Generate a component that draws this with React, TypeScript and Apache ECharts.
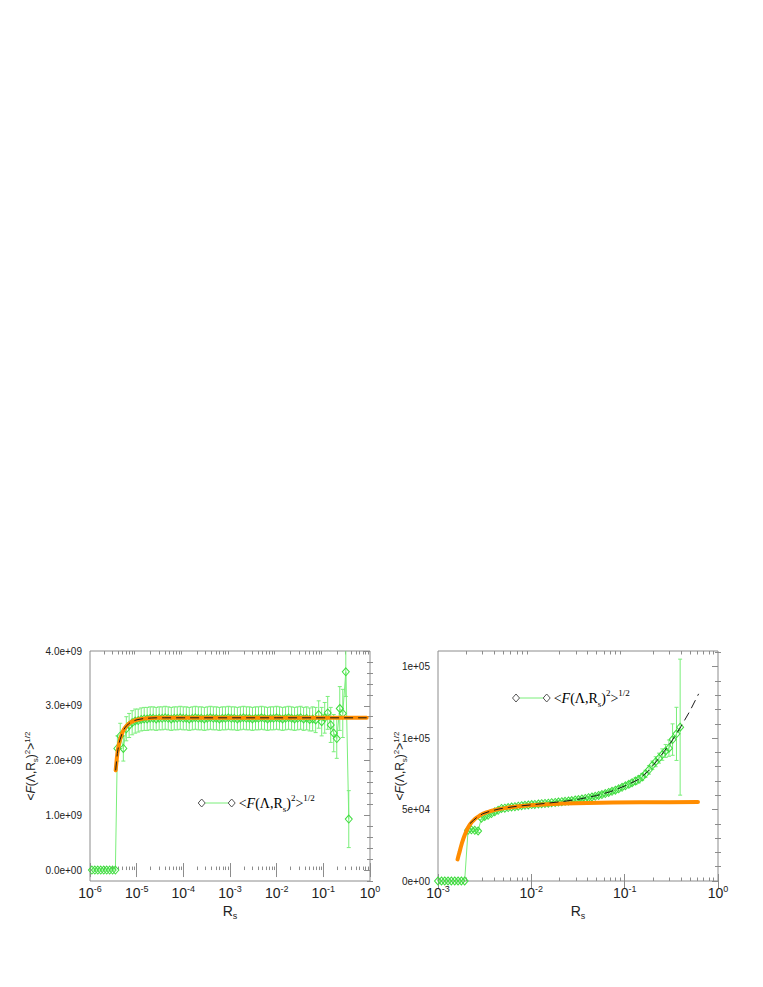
import React, { useEffect, useRef } from "react";
import * as echarts from "echarts";

// ---------- Left panel data ----------
const leftRs = [
  1.1e-6, 1.27e-6, 1.47e-6, 1.7e-6, 1.97e-6, 2.28e-6, 2.64e-6, 3.05e-6, 3.5e-6,
  3.86e-6, 4.45e-6, 5.18e-6, 6.0e-6, 6.9e-6, 8.0e-6, 9.3e-6,
  1.08e-5, 1.25e-5, 1.45e-5, 1.68e-5, 1.95e-5, 2.26e-5, 2.62e-5, 3.04e-5, 3.53e-5, 4.09e-5, 4.75e-5, 5.51e-5, 6.39e-5, 7.41e-5, 8.6e-5, 9.97e-5,
  1.16e-4, 1.34e-4, 1.56e-4, 1.81e-4, 2.1e-4, 2.43e-4, 2.82e-4, 3.27e-4, 3.8e-4, 4.4e-4, 5.11e-4, 5.93e-4, 6.88e-4, 7.98e-4, 9.25e-4,
  1.07e-3, 1.24e-3, 1.44e-3, 1.67e-3, 1.94e-3, 2.25e-3, 2.61e-3, 3.03e-3, 3.52e-3, 4.08e-3, 4.73e-3, 5.49e-3, 6.37e-3, 7.39e-3, 8.57e-3, 9.94e-3,
  1.15e-2, 1.34e-2, 1.55e-2, 1.8e-2, 2.09e-2, 2.42e-2, 2.81e-2, 3.26e-2, 3.78e-2, 4.39e-2, 5.09e-2,
  0.059, 0.0685, 0.0795, 0.0922, 0.107, 0.124, 0.144, 0.167, 0.194, 0.225, 0.261, 0.303, 0.351,
];
const leftF = [
  0, 0, 0, 0, 0, 0, 0, 0, 0,
  2.22e9, 2.45e9, 2.22e9, 2.58e9, 2.64e9, 2.69e9, 2.72e9,
  2.73e9, 2.75e9, 2.76e9, 2.76e9, 2.77e9, 2.77e9, 2.76e9, 2.77e9, 2.77e9, 2.78e9, 2.77e9, 2.76e9, 2.77e9, 2.77e9, 2.78e9, 2.77e9,
  2.77e9, 2.76e9, 2.77e9, 2.78e9, 2.77e9, 2.77e9, 2.76e9, 2.77e9, 2.78e9, 2.77e9, 2.77e9, 2.76e9, 2.77e9, 2.77e9, 2.78e9,
  2.77e9, 2.77e9, 2.76e9, 2.77e9, 2.78e9, 2.77e9, 2.77e9, 2.76e9, 2.77e9, 2.77e9, 2.78e9, 2.77e9, 2.76e9, 2.77e9, 2.77e9, 2.78e9,
  2.77e9, 2.76e9, 2.77e9, 2.78e9, 2.77e9, 2.76e9, 2.77e9, 2.78e9, 2.76e9, 2.77e9, 2.75e9,
  2.76e9, 2.74e9, 2.84e9, 2.71e9, 2.78e9, 2.87e9, 2.65e9, 2.5e9, 2.4e9, 2.95e9, 2.86e9, 3.62e9, 0.93e9,
];
const leftErr = [
  0, 0, 0, 0, 0, 0, 0, 0, 0,
  0.23e9, 0.23e9, 0.23e9, 0.22e9, 0.22e9, 0.22e9, 0.22e9,
  0.21e9, 0.21e9, 0.21e9, 0.21e9, 0.21e9, 0.21e9, 0.21e9, 0.21e9, 0.21e9, 0.21e9, 0.21e9, 0.21e9, 0.21e9, 0.21e9, 0.21e9, 0.21e9,
  0.21e9, 0.21e9, 0.21e9, 0.21e9, 0.21e9, 0.21e9, 0.21e9, 0.21e9, 0.21e9, 0.21e9, 0.21e9, 0.21e9, 0.21e9, 0.21e9, 0.21e9,
  0.21e9, 0.21e9, 0.21e9, 0.21e9, 0.21e9, 0.21e9, 0.21e9, 0.21e9, 0.21e9, 0.21e9, 0.21e9, 0.21e9, 0.21e9, 0.21e9, 0.21e9, 0.21e9,
  0.21e9, 0.21e9, 0.21e9, 0.21e9, 0.21e9, 0.21e9, 0.21e9, 0.21e9, 0.21e9, 0.21e9, 0.21e9,
  0.22e9, 0.23e9, 0.25e9, 0.26e9, 0.28e9, 0.3e9, 0.32e9, 0.34e9, 0.36e9, 0.4e9, 0.44e9, 0.45e9, 0.52e9,
];
const leftCurveRs = [
  3.55e-6, 3.62e-6, 3.7e-6, 3.78e-6, 3.86e-6, 3.97e-6, 4.1e-6, 4.25e-6, 4.4e-6, 4.6e-6, 4.8e-6, 5.05e-6, 5.34e-6,
  5.75e-6, 6.2e-6, 6.7e-6, 7.2e-6, 8e-6, 9e-6, 1.02e-5, 1.18e-5, 1.4e-5, 1.7e-5, 2.1e-5, 2.7e-5, 4e-5, 1e-4, 1e-3, 1e-2, 0.1, 0.85,
];
const leftCurveF = [
  1.82e9, 1.9e9, 1.98e9, 2.06e9, 2.13e9, 2.2e9, 2.27e9, 2.33e9, 2.38e9, 2.43e9, 2.48e9, 2.53e9, 2.57e9,
  2.61e9, 2.64e9, 2.67e9, 2.69e9, 2.71e9, 2.73e9, 2.745e9, 2.755e9, 2.765e9, 2.772e9, 2.777e9, 2.78e9, 2.78e9, 2.78e9, 2.78e9, 2.78e9, 2.78e9, 2.78e9,
];

// ---------- Right panel data ----------
const rightRs = [
  1.0e-3, 1.09e-3, 1.18e-3, 1.28e-3, 1.39e-3, 1.51e-3, 1.64e-3, 1.78e-3, 1.93e-3,
  2.1e-3, 2.28e-3, 2.48e-3, 2.69e-3, 2.92e-3, 3.17e-3, 3.44e-3, 3.74e-3, 4.06e-3, 4.41e-3, 4.79e-3, 5.2e-3, 5.65e-3, 6.14e-3, 6.67e-3, 7.24e-3, 7.87e-3, 8.55e-3, 9.28e-3,
  1.01e-2, 1.09e-2, 1.19e-2, 1.29e-2, 1.4e-2, 1.52e-2, 1.65e-2, 1.8e-2, 1.95e-2, 2.12e-2, 2.3e-2, 2.5e-2, 2.71e-2, 2.95e-2,
  3.2e-2, 3.48e-2, 3.78e-2, 4.1e-2, 4.46e-2, 4.84e-2, 5.26e-2, 5.71e-2, 6.2e-2, 6.74e-2, 7.32e-2, 7.95e-2, 8.63e-2, 9.38e-2,
  0.102, 0.111, 0.12, 0.131, 0.142, 0.154, 0.167, 0.182, 0.198, 0.215, 0.233, 0.253, 0.275, 0.298, 0.326, 0.359, 0.393,
];
const rightF = [
  0, 0, 0, 0, 0, 0, 0, 0, 0,
  3.55e4, 3.58e4, 3.55e4, 3.5e4, 4.4e4, 4.52e4, 4.6e4, 4.72e4, 4.85e4, 4.95e4, 5.08e4, 5.1e4, 5.14e4, 5.18e4, 5.2e4, 5.24e4, 5.27e4, 5.3e4, 5.32e4,
  5.35e4, 5.36e4, 5.39e4, 5.41e4, 5.43e4, 5.45e4, 5.48e4, 5.5e4, 5.53e4, 5.55e4, 5.58e4, 5.6e4, 5.63e4, 5.67e4,
  5.7e4, 5.74e4, 5.78e4, 5.83e4, 5.88e4, 5.93e4, 5.99e4, 6.05e4, 6.12e4, 6.2e4, 6.28e4, 6.36e4, 6.45e4, 6.56e4,
  6.66e4, 6.77e4, 6.88e4, 7.0e4, 7.12e4, 7.28e4, 7.5e4, 7.78e4, 8.1e4, 8.35e4, 8.6e4, 8.85e4, 9.1e4, 9.3e4, 9.9e4, 1.03e5, 1.077e5,
];
const rightErr = [
  0, 0, 0, 0, 0, 0, 0, 0, 0,
  1e3, 1e3, 1e3, 1e3, 1e3, 1e3, 1e3, 1e3, 1e3, 1e3, 1e3, 1e3, 1e3, 1e3, 1e3, 1e3, 1e3, 1e3, 1e3,
  1e3, 1e3, 1e3, 1e3, 1e3, 1e3, 1e3, 1e3, 1e3, 1e3, 1e3, 1e3, 1e3, 1e3,
  1e3, 1e3, 1e3, 1e3, 1e3, 1.2e3, 1.5e3, 1.5e3, 1.5e3, 1.5e3, 1.5e3, 1.5e3, 1.5e3, 1.5e3,
  1.5e3, 2e3, 2e3, 2.5e3, 2.5e3, 2.5e3, 2.5e3, 3e3, 3e3, 3.5e3, 3.5e3, 4e3, 4.5e3, 5.7e3, 1.1e4, 1.86e4, 4.76e4,
];
const rightModelRs = [
  1.62e-3, 1.66e-3, 1.7e-3, 1.75e-3, 1.8e-3, 1.86e-3, 1.93e-3, 2.0e-3, 2.07e-3, 2.18e-3, 2.3e-3, 2.45e-3, 2.6e-3, 2.8e-3,
  3.0e-3, 3.3e-3, 3.6e-3, 4.0e-3, 4.5e-3, 5.4e-3, 7e-3, 9.7e-3, 1.5e-2, 2.2e-2, 4e-2, 7.5e-2, 0.15, 0.3, 0.61,
];
const rightModelF = [
  1.51e4, 1.78e4, 2.02e4, 2.34e4, 2.63e4, 2.92e4, 3.2e4, 3.45e4, 3.67e4, 3.92e4, 4.12e4, 4.3e4, 4.44e4, 4.58e4,
  4.7e4, 4.8e4, 4.88e4, 4.96e4, 5.03e4, 5.12e4, 5.22e4, 5.3e4, 5.37e4, 5.42e4, 5.46e4, 5.49e4, 5.51e4, 5.52e4, 5.53e4,
];
const rightFitRs = [
  2.2e-3, 2.4e-3, 2.6e-3, 3.0e-3, 3.6e-3, 4.5e-3, 5.4e-3, 7e-3, 1e-2, 1.5e-2, 2.2e-2, 3.2e-2, 5e-2, 7e-2,
  0.1, 0.14, 0.18, 0.22, 0.26, 0.32, 0.4, 0.5, 0.62,
];
const rightFitF = [
  4.02e4, 4.25e4, 4.44e4, 4.7e4, 4.88e4, 5.04e4, 5.13e4, 5.23e4, 5.33e4, 5.45e4, 5.57e4, 5.72e4, 5.98e4, 6.25e4,
  6.65e4, 7.1e4, 7.7e4, 8.4e4, 9.0e4, 9.8e4, 1.08e5, 1.19e5, 1.31e5,
];

// ---------- Tick labels ----------
const leftYTicks = [0, 1e9, 2e9, 3e9, 4e9];
const leftYLabels = ["0.0e+00", "1.0e+09", "2.0e+09", "3.0e+09", "4.0e+09"];
const rightYTicks = [0, 5e4, 1e5, 1.5e5];
const rightYLabels = ["0e+00", "5e+04", "1e+05", "1e+05"];
const minorMantissas = [2, 3, 4, 5, 6, 7, 8, 9];

const GREEN_LINE = "#7aee7a";
const GREEN_MARK = "#3fdc3f";
const ORANGE = "#ff8c00";
const FRAME = "#8c8c8c";
const LABEL = "#222";
const SANS = "'Liberation Sans', Arial, Helvetica, sans-serif";
const SERIF = "'Liberation Serif', 'Times New Roman', serif";

function logMinor(minExp: number, maxExp: number) {
  const out: number[] = [];
  for (let d = minExp; d < maxExp; d++) for (const m of minorMantissas) out.push(d + Math.log10(m));
  return out;
}
function linMinor(kMin: number, kMax: number, step: number, every: number) {
  const out: number[] = [];
  for (let k = kMin; k <= kMax; k++) if (k % every !== 0) out.push(k * step);
  return out;
}

const yTitleRich = {
  t: { fontFamily: SANS, fontSize: 12, lineHeight: 16, color: LABEL },
  i: { fontFamily: SANS, fontSize: 12, lineHeight: 16, fontStyle: "italic", color: LABEL },
  sub: { fontFamily: SANS, fontSize: 8, verticalAlign: "bottom", color: LABEL },
  sup: { fontFamily: SANS, fontSize: 8, verticalAlign: "top", color: LABEL },
};
const legendRich = {
  t: { fontFamily: SERIF, fontSize: 14, lineHeight: 20, color: "#000" },
  i: { fontFamily: SERIF, fontSize: 14, lineHeight: 20, fontStyle: "italic", color: "#000" },
  sub: { fontFamily: SERIF, fontSize: 9, verticalAlign: "bottom", color: "#000" },
  sup: { fontFamily: SERIF, fontSize: 9, verticalAlign: "top", color: "#000" },
};
const FTEXT = "{t|<}{i|F}{t|(Λ,R}{sub|s}{t|)}{sup|2}{t|>}{sup|1/2}";
const xLabelRich = {
  b: { fontFamily: SANS, fontSize: 14, lineHeight: 18, color: LABEL },
  s: { fontFamily: SANS, fontSize: 9, verticalAlign: "top", color: LABEL },
};
const xNameRich = {
  b: { fontFamily: SANS, fontSize: 14, lineHeight: 18, color: LABEL },
  sub: { fontFamily: SANS, fontSize: 9, verticalAlign: "bottom", color: LABEL },
};

type Panel = {
  grid: { left: number; top: number; width: number; height: number };
  minExp: number;
  yMin: number;
  yMax: number;
  yTicks: number[];
  yLabels: string[];
  yMinor: number[];
  yNameGap: number;
};

function buildAxes(p: Panel, g: number) {
  const tick = (len: number, inside: boolean, customValues?: number[]) => ({
    show: true,
    inside,
    length: len,
    lineStyle: { color: FRAME, width: 1 },
    ...(customValues ? { customValues } : {}),
  });
  const base = {
    gridIndex: g,
    axisLine: { show: false },
    splitLine: { show: false },
  };
  const xMajorVals: number[] = [];
  for (let d = p.minExp; d <= 0; d++) xMajorVals.push(d);
  const xMinorVals = logMinor(p.minExp, 0);
  const xAxes = [
    { type: "log", gridIndex: g, logBase: 10, min: Math.pow(10, p.minExp), max: 1, show: false },
    {
      ...base,
      type: "value",
      position: "bottom",
      min: p.minExp,
      max: 0,
      interval: 1,
      axisTick: tick(7, true),
      axisLabel: {
        margin: 3,
        formatter: (v: number) => `{b|10}{s|${Math.round(v)}}`,
        rich: xLabelRich,
      },
      name: "{b|R}{sub|s}",
      nameLocation: "middle",
      nameGap: 21,
      nameMoveOverlap: false,
      nameTextStyle: { rich: xNameRich },
    },
    { ...base, type: "value", position: "bottom", min: p.minExp, max: 0, axisTick: tick(3.5, true, xMinorVals), axisLabel: { show: false } },
    { ...base, type: "value", position: "top", min: p.minExp, max: 0, axisTick: tick(7, true, xMajorVals), axisLabel: { show: false } },
    { ...base, type: "value", position: "top", min: p.minExp, max: 0, axisTick: tick(3.5, true, xMinorVals), axisLabel: { show: false } },
  ];
  const yAxes = [
    {
      ...base,
      type: "value",
      position: "left",
      min: p.yMin,
      max: p.yMax,
      axisTick: tick(5, false, p.yTicks),
      axisLabel: {
        customValues: p.yTicks,
        margin: 8,
        fontFamily: SANS,
        fontSize: 10,
        color: LABEL,
        formatter: (v: number) => {
          const i = p.yTicks.findIndex((t) => Math.abs(t - v) < 1e-6 * (Math.abs(t) + 1));
          return i >= 0 ? p.yLabels[i] : String(v);
        },
      },
      name: FTEXT,
      nameLocation: "middle",
      nameRotate: 90,
      nameGap: p.yNameGap,
      nameMoveOverlap: false,
      nameTextStyle: { rich: yTitleRich },
    },
    { ...base, type: "value", position: "left", min: p.yMin, max: p.yMax, axisTick: tick(3, true, p.yMinor), axisLabel: { show: false } },
    { ...base, type: "value", position: "right", min: p.yMin, max: p.yMax, axisTick: tick(6, true, p.yTicks), axisLabel: { show: false } },
    { ...base, type: "value", position: "right", min: p.yMin, max: p.yMax, axisTick: tick(3, true, p.yMinor), axisLabel: { show: false } },
  ];
  return { xAxes, yAxes };
}

function buildSeries(
  xIdx: number,
  yIdx: number,
  rs: number[],
  f: number[],
  err: number[],
  model: [number[], number[]],
  fit: [number[], number[]]
) {
  const errData: number[][] = [];
  rs.forEach((x, i) => {
    const e = err[i] || 0;
    if (e > 0) errData.push([x, f[i] - e, f[i] + e]);
  });
  const pts = rs.map((x, i) => [x, f[i]]);
  const modelPts = model[0].map((x, i) => [x, model[1][i]]);
  const fitPts = fit[0].map((x, i) => [x, fit[1][i]]);
  return [
    {
      type: "custom",
      xAxisIndex: xIdx,
      yAxisIndex: yIdx,
      clip: true,
      silent: true,
      data: errData,
      renderItem: (_params: any, api: any) => {
        const x = api.value(0);
        const lo = api.coord([x, api.value(1)]);
        const hi = api.coord([x, api.value(2)]);
        const c = 2;
        const st = { stroke: GREEN_LINE, lineWidth: 1 };
        return {
          type: "group",
          children: [
            { type: "line", shape: { x1: hi[0], y1: hi[1], x2: lo[0], y2: lo[1] }, style: st },
            { type: "line", shape: { x1: hi[0] - c, y1: hi[1], x2: hi[0] + c, y2: hi[1] }, style: st },
            { type: "line", shape: { x1: lo[0] - c, y1: lo[1], x2: lo[0] + c, y2: lo[1] }, style: st },
          ],
        };
      },
      z: 1,
    },
    {
      type: "line",
      xAxisIndex: xIdx,
      yAxisIndex: yIdx,
      data: pts,
      symbol: "diamond",
      symbolSize: [7, 8],
      showSymbol: true,
      lineStyle: { color: GREEN_LINE, width: 1 },
      itemStyle: { color: "rgba(0,0,0,0)", borderColor: GREEN_MARK, borderWidth: 1 },
      z: 2,
    },
    {
      type: "line",
      xAxisIndex: xIdx,
      yAxisIndex: yIdx,
      data: modelPts,
      showSymbol: false,
      symbol: "none",
      lineStyle: { color: ORANGE, width: 4, cap: "round" },
      z: 3,
    },
    {
      type: "line",
      xAxisIndex: xIdx,
      yAxisIndex: yIdx,
      data: fitPts,
      showSymbol: false,
      symbol: "none",
      lineStyle: { color: "#1a1a1a", width: 1, type: [9, 5] },
      z: 4,
    },
  ];
}

function legendGraphic(x1: number, x2: number, y: number) {
  const diamond = (cx: number) => ({
    type: "polygon",
    shape: { points: [[cx, y - 4], [cx + 3.5, y], [cx, y + 4], [cx - 3.5, y]] },
    style: { fill: "#fff", stroke: "#555", lineWidth: 1 },
    z: 10,
  });
  return [
    { type: "line", shape: { x1: x1 + 3.5, y1: y, x2: x2 - 3.5, y2: y }, style: { stroke: GREEN_LINE, lineWidth: 1 }, z: 10 },
    diamond(x1),
    diamond(x2),
    {
      type: "text",
      x: x2 + 7,
      y: y,
      style: { text: FTEXT, rich: legendRich, verticalAlign: "middle", align: "left" },
      z: 10,
    },
  ];
}

export default function App() {
  const ref = useRef<HTMLDivElement>(null);
  useEffect(() => {
    if (!ref.current) return;
    const chart = echarts.init(ref.current, null, { renderer: "svg" });
    const leftPanel: Panel = {
      grid: { left: 90, top: 651, width: 280, height: 230 },
      minExp: -6,
      yMin: -0.2e9,
      yMax: 4e9,
      yTicks: leftYTicks,
      yLabels: leftYLabels,
      yMinor: linMinor(-1, 20, 0.2e9, 5),
      yNameGap: 51,
    };
    const rightPanel: Panel = {
      grid: { left: 438, top: 651, width: 280, height: 230 },
      minExp: -3,
      yMin: 0,
      yMax: 1.61e5,
      yTicks: rightYTicks,
      yLabels: rightYLabels,
      yMinor: linMinor(1, 16, 1e4, 5),
      yNameGap: 30,
    };
    const L = buildAxes(leftPanel, 0);
    const R = buildAxes(rightPanel, 1);
    const nX = L.xAxes.length;
    const nY = L.yAxes.length;
    const gridStyle = { show: true, borderColor: FRAME, borderWidth: 1, backgroundColor: "transparent" };
    const option: any = {
      animation: false,
      backgroundColor: "#fff",
      grid: [
        { ...leftPanel.grid, ...gridStyle },
        { ...rightPanel.grid, ...gridStyle },
      ],
      xAxis: [...L.xAxes, ...R.xAxes],
      yAxis: [...L.yAxes, ...R.yAxes],
      series: [
        ...buildSeries(0, 0, leftRs, leftF, leftErr, [leftCurveRs, leftCurveF], [leftCurveRs, leftCurveF]),
        ...buildSeries(nX, nY, rightRs, rightF, rightErr, [rightModelRs, rightModelF], [rightFitRs, rightFitF]),
      ],
      graphic: [...legendGraphic(201.7, 231.7, 803), ...legendGraphic(516, 546.7, 698)],
    };
    chart.setOption(option);
    return () => chart.dispose();
  }, []);
  return <div ref={ref} style={{ position: "absolute", left: 0, top: 0, width: 763, height: 987 }} />;
}
